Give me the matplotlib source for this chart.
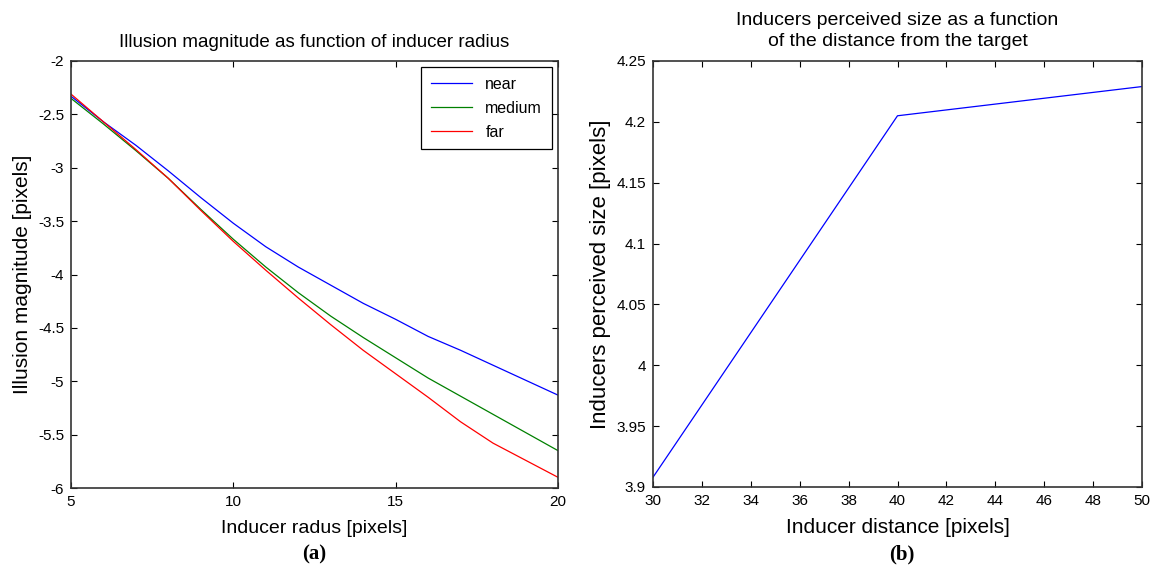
import numpy as np
import matplotlib
matplotlib.use("Agg")
import matplotlib.pyplot as plt

plt.rcParams['font.family'] = ['Liberation Sans', 'DejaVu Sans']

# Datos panel (a): magnitud de la ilusion segun radio del inductor
radio = [5, 6, 7, 8, 9, 10, 11, 12, 13, 14, 15, 16, 17, 18, 19, 20]
near = [-2.33, -2.57, -2.79, -3.03, -3.28, -3.52, -3.74, -3.93, -4.10, -4.27,
        -4.42, -4.58, -4.71, -4.85, -4.99, -5.13]
medium = [-2.35, -2.59, -2.84, -3.10, -3.39, -3.67, -3.93, -4.17, -4.39, -4.59,
          -4.78, -4.97, -5.14, -5.31, -5.48, -5.65]
far = [-2.31, -2.57, -2.83, -3.10, -3.40, -3.69, -3.96, -4.22, -4.47, -4.71,
       -4.93, -5.15, -5.38, -5.58, -5.74, -5.90]

# Datos panel (b): tamaño percibido segun distancia
distancia = [30, 40, 50]
tamano = [3.908, 4.205, 4.229]

fig = plt.figure(figsize=(11.51, 5.70), dpi=100)
ax1 = fig.add_axes([71/1151, 1-488/570, (558-71)/1151, (488-61)/570])
ax2 = fig.add_axes([653/1151, 1-487/570, (1142-653)/1151, (487-61)/570])

ax1.plot(radio, near, color='blue', lw=0.9, label='near')
ax1.plot(radio, medium, color='green', lw=0.9, label='medium')
ax1.plot(radio, far, color='red', lw=0.9, label='far')
ax1.set_xlim(5, 20)
ax1.set_ylim(-6, -2)
ax1.set_xticks([5, 10, 15, 20])
ax1.set_yticks(np.arange(-6, -1.9, 0.5))
ax1.set_yticklabels(['-6', '-5.5', '-5', '-4.5', '-4', '-3.5', '-3', '-2.5', '-2'])
ax1.set_title("Illusion magnitude as function of inducer radius", fontsize=13.5, pad=10)
ax1.set_xlabel("Inducer radus [pixels]", fontsize=14, labelpad=8)
ax1.set_ylabel("Illusion magnitude [pixels]", fontsize=15, labelpad=4)
leg = ax1.legend(loc='upper right', fontsize=11.5, fancybox=False, framealpha=1,
                 edgecolor='black', handlelength=2.6, labelspacing=0.55,
                 borderaxespad=0.4, borderpad=0.6)
leg.get_frame().set_linewidth(0.9)

ax2.plot(distancia, tamano, color='blue', lw=0.9)
ax2.set_xlim(30, 50)
ax2.set_ylim(3.9, 4.25)
ax2.set_xticks(np.arange(30, 51, 2))
ax2.set_yticks([3.9, 3.95, 4.0, 4.05, 4.1, 4.15, 4.2, 4.25])
ax2.set_yticklabels(['3.9', '3.95', '4', '4.05', '4.1', '4.15', '4.2', '4.25'])
ax2.set_title("Inducers perceived size as a function\nof the distance from the target",
              fontsize=14, pad=11, linespacing=1.3)
ax2.set_xlabel("Inducer distance [pixels]", fontsize=15, labelpad=7)
ax2.set_ylabel("Inducers perceived size [pixels]", fontsize=16, labelpad=4)

for ax in (ax1, ax2):
    ax.tick_params(direction='in', top=True, right=True, labelsize=11,
                   length=4, width=0.8, pad=5)
    for s in ax.spines.values():
        s.set_linewidth(1.2)
        s.set_color('#333333')

fig.text(314/1151, 1-554/570, "(a)", fontsize=15, fontweight='bold',
         family='Liberation Serif', ha='center', va='center')
fig.text(902/1151, 1-554/570, "(b)", fontsize=15, fontweight='bold',
         family='Liberation Serif', ha='center', va='center')

fig.savefig("out.png", dpi=100)
